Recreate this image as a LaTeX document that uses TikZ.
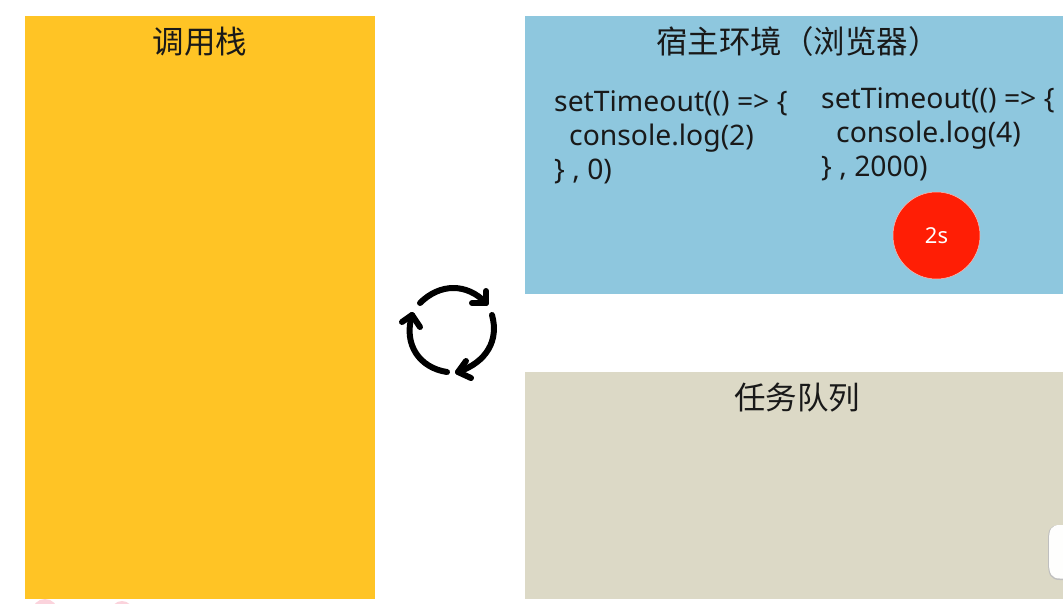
\documentclass[tikz,border=0pt]{standalone}
\usepackage{fontspec}
\setmainfont{Noto Sans}
\newfontfamily\cjk{Noto Sans CJK SC}
\definecolor{stackc}{HTML}{FFC425}
\definecolor{hostc}{HTML}{8EC7DE}
\definecolor{queuec}{HTML}{DCD9C6}
\definecolor{timerc}{HTML}{FF1E05}
\definecolor{pinkc}{HTML}{FBD3DC}
\tikzset{
  panel/.style={inner sep=0pt,outer sep=0pt,anchor=north west},
  title/.style={font=\cjk\fontsize{31.5}{36}\selectfont,text=black!90,inner sep=0pt},
  code/.style={font=\fontsize{28.3}{34}\selectfont,text=black!90,align=left,anchor=north west,inner sep=0pt},
  loopline/.style={line width=6pt,line cap=round,line join=round,black}
}
\begin{document}
\begin{tikzpicture}[x=1pt,y=-1pt]
\useasboundingbox (0,0) rectangle (1063,603);
\fill[white] (0,0) rectangle (1063,603);
\fill[pinkc] (45,612) circle (13);
\fill[pinkc] (122,612) circle (11);
\node[panel,fill=stackc,minimum width=350pt,minimum height=583pt] (stack) at (25,16) {};
\node[panel,fill=hostc,minimum width=538pt,minimum height=278pt] (host) at (525,16) {};
\node[panel,fill=queuec,minimum width=538pt,minimum height=227pt] (queue) at (525,372) {};
\node[title] (t1) at (200,42) {调用栈};
\node[title] (t2) at (798,42) {宿主环境（浏览器）};
\node[title] (t3) at (797,398) {任务队列};
\node[code] (c1) at (554,90) {setTimeout(() => \{\\\hspace*{15pt}console.log(2)\\\} , 0)};
\node[code] (c2) at (821,87) {setTimeout(() => \{\\\hspace*{15pt}console.log(4)\\\} , 2000)};
\node[circle,fill=timerc,draw=white!70!timerc,line width=.5pt,minimum size=87pt,inner sep=0pt,text=white,font=\fontsize{22}{24}\selectfont] (timer) at (936.5,235.5) {2s};
\fill[black!25] (1063,525.5) -- (1058,525.5) .. controls (1050,525.5) and (1048,530) .. (1048,540) -- (1048,563) .. controls (1048,575) and (1051,580) .. (1060,580) -- (1063,580) -- cycle;
\fill[white!97!queuec] (1063,525) -- (1060,525) .. controls (1051,525) and (1049,530) .. (1049,540) -- (1049,563) .. controls (1049,574) and (1052,578.5) .. (1060,578.5) -- (1063,578.5) -- cycle;
\draw[loopline] (420,303) .. controls (440,283) and (467,283) .. (486,303);
\draw[loopline] (486,291) -- (486,303) -- (472,303);
\draw[loopline] (492,315) .. controls (499,340) and (487,362) .. (458,372);
\draw[loopline] (466,361) -- (458,372) -- (471,378);
\draw[loopline] (447,372) .. controls (420,368) and (403,345) .. (412,315);
\draw[loopline] (402,322) -- (412,315) -- (420,327);
\end{tikzpicture}
\end{document}
